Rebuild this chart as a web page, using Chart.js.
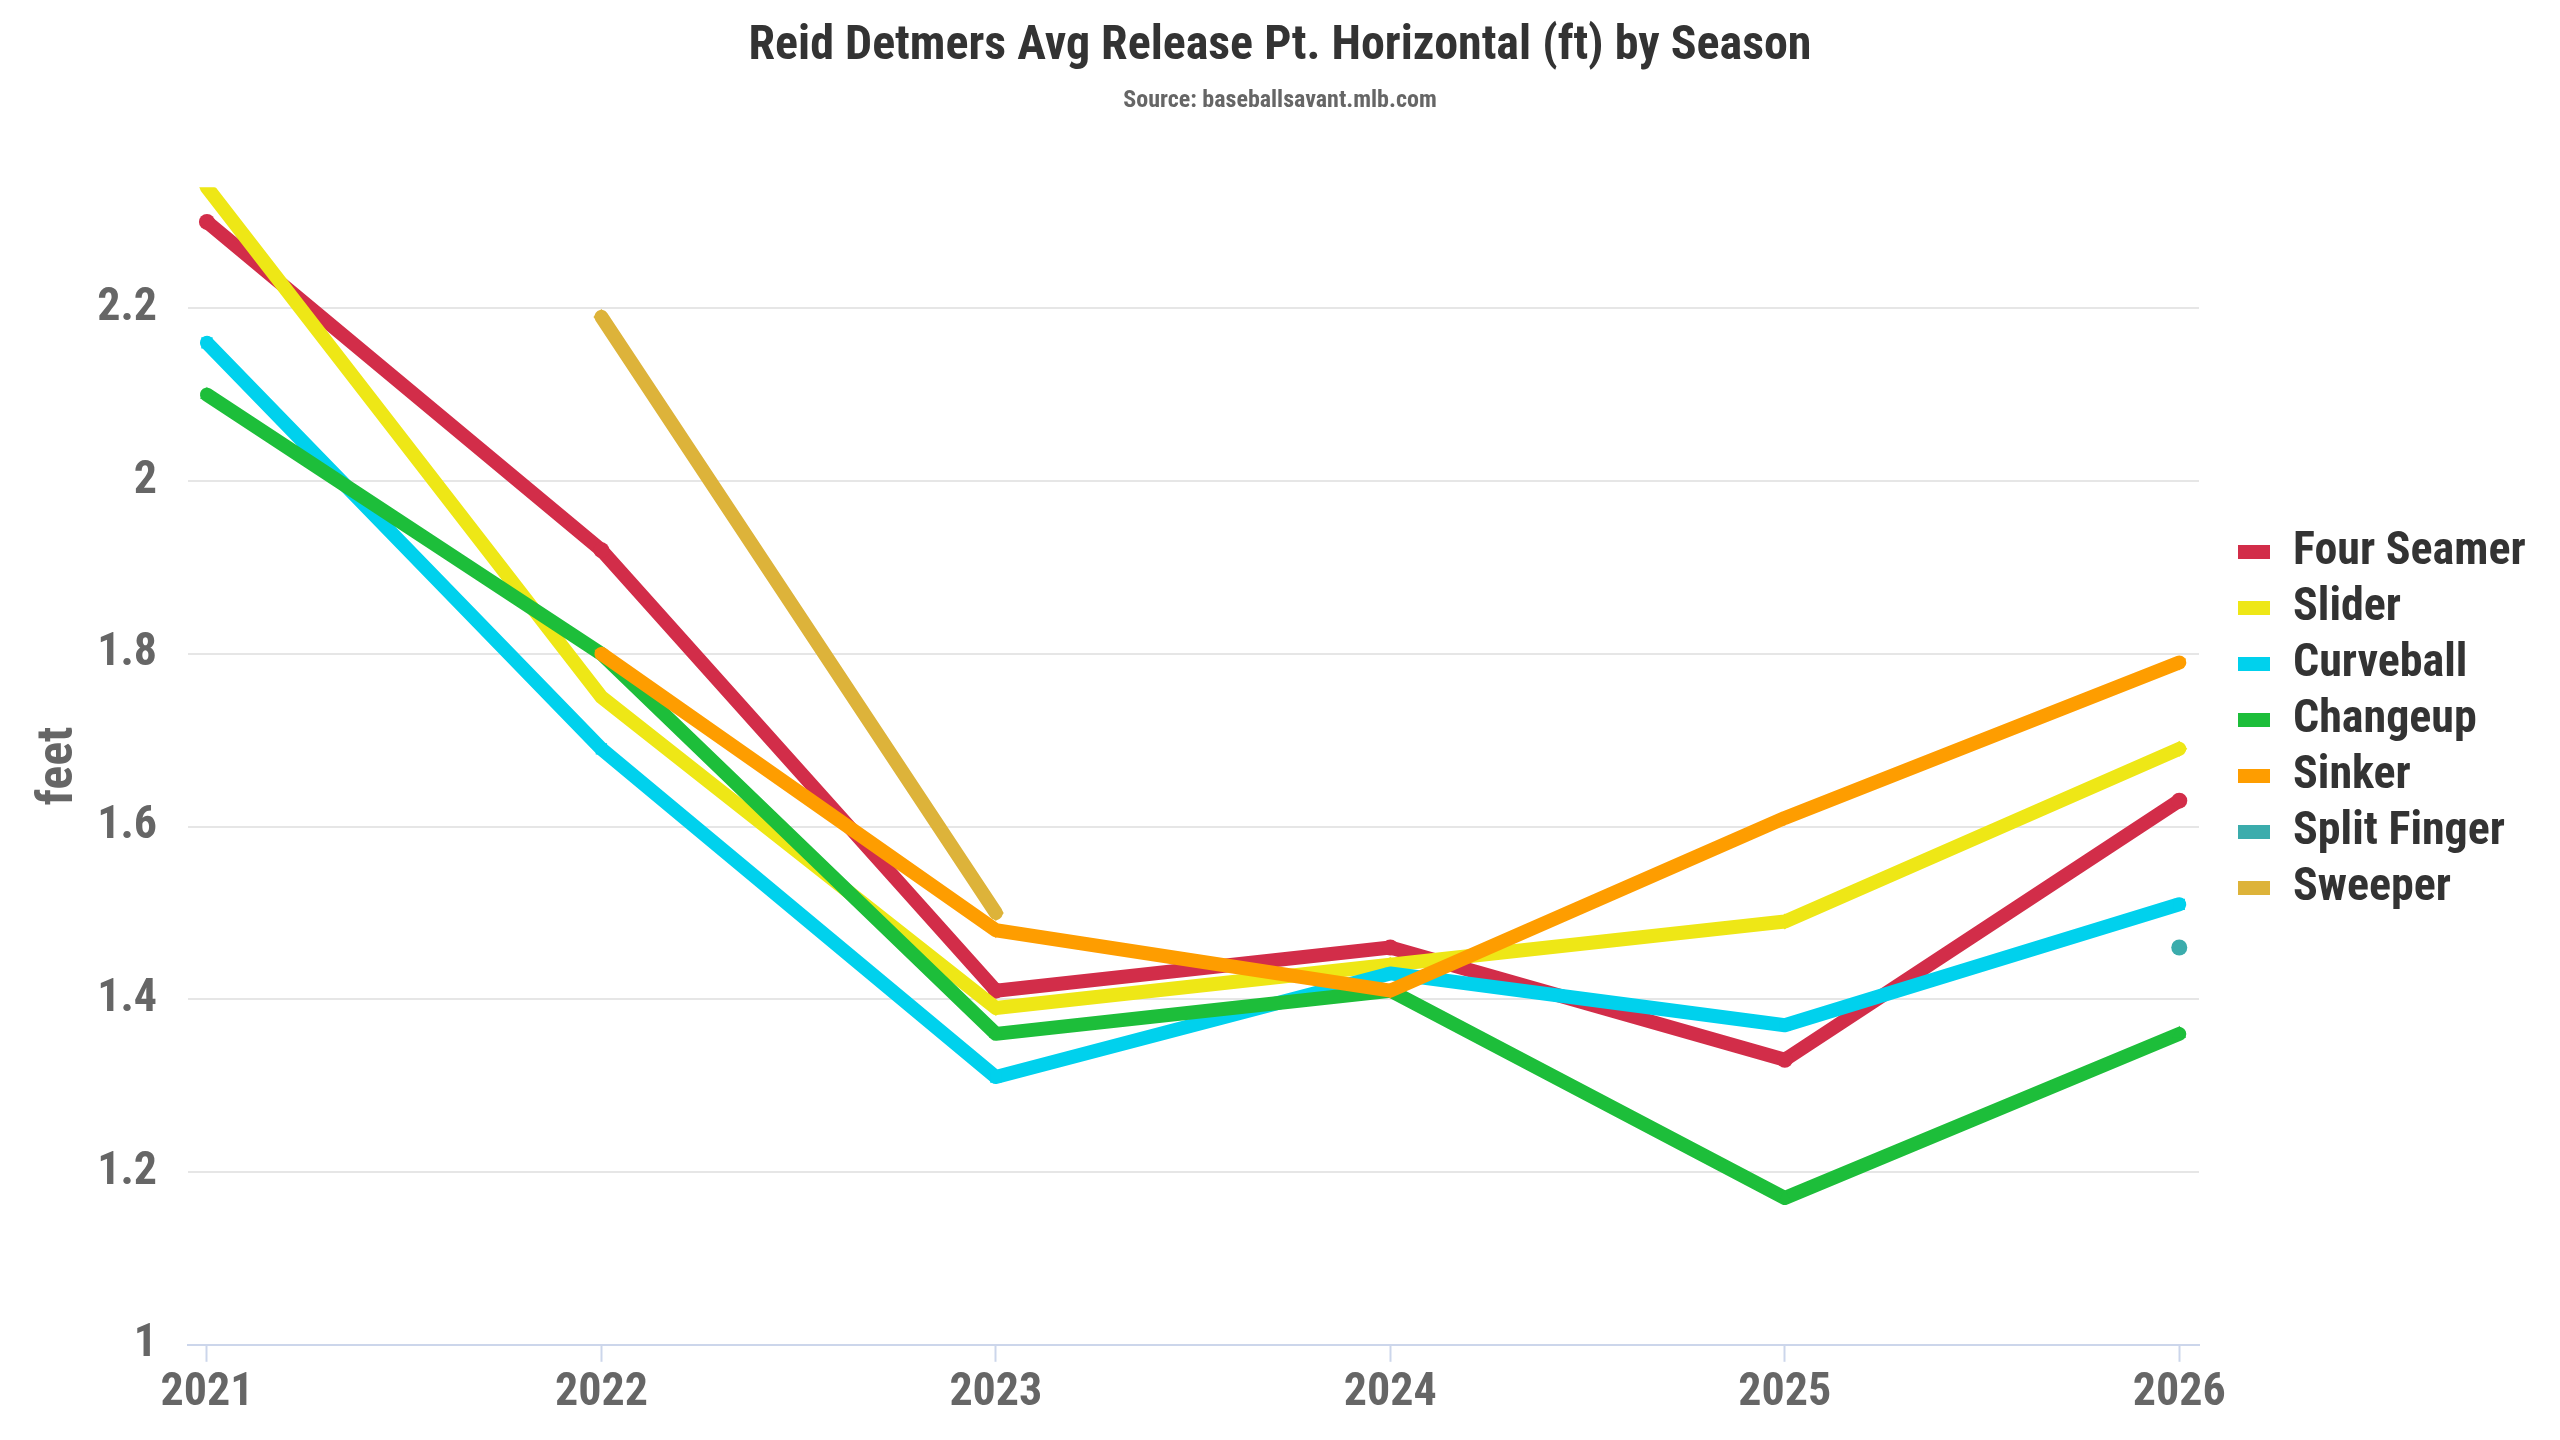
<!DOCTYPE html>
<html>
<head>
<meta charset="utf-8">
<script src="https://cdn.jsdelivr.net/npm/chart.js@4"></script>
<style>
  body { margin: 0; background: #fff; }
  #wrap { width: 2560px; height: 1440px; }
</style>
</head>
<body>
<div id="wrap"><canvas id="myChart"></canvas></div>
<script>
const seasons = [2021, 2022, 2023, 2024, 2025, 2026]
const pitchNames = ['Four Seamer', 'Slider', 'Curveball', 'Changeup', 'Sinker', 'Split Finger', 'Sweeper']
const fourSeamer = [2.30, 1.92, 1.41, 1.46, 1.33, 1.63]
const slider = [2.34, 1.75, 1.39, 1.44, 1.49, 1.69]
const curveball = [2.16, 1.69, 1.31, 1.43, 1.37, 1.51]
const changeup = [2.10, 1.80, 1.36, 1.41, 1.17, 1.36]
const sinker = [null, 1.80, 1.48, 1.41, 1.61, 1.79]
const splitFinger = [null, null, null, null, null, 1.46]
const sweeper = [null, 2.19, 1.50, null, null, null]
const yTicks = [1, 1.2, 1.4, 1.6, 1.8, 2, 2.2]

const colors = ['#d22d49', '#eee716', '#00d1ed', '#1dbe3a', '#fe9d00', '#3bacac', '#ddb33a']
const markers = ['circle', 'rectRot', 'rect', 'triangle', 'triangle', 'circle', 'rectRot']
const font = "'Roboto Condensed', 'Liberation Sans Narrow', 'DejaVu Sans Condensed', Roboto, sans-serif"

const yAxisWidth = 188
const legendWidth = 361

const series = [fourSeamer, slider, curveball, changeup, sinker, splitFinger, sweeper]

const datasets = series.map((values, i) => {
  return {
    label: pitchNames[i],
    data: values,
    borderColor: colors[i],
    backgroundColor: colors[i],
    borderWidth: 14,
    borderCapStyle: 'round',
    borderJoinStyle: 'round',
    pointStyle: markers[i],
    pointRotation: i === 4 ? 180 : 0,
    pointRadius: 8,
    pointBorderWidth: 0,
    tension: 0,
    order: -i
  }
})

// legend: fixed width, centred on the whole canvas, just right of the plot
const legendPlace = {
  id: 'legendPlace',
  beforeLayout(chart) {
    const lg = chart.legend
    if (lg && !lg.widened) {
      const baseFit = lg.fit
      lg.fit = function () {
        baseFit.call(this)
        this.width = legendWidth
      }
      lg.widened = true
    }
  },
  afterLayout(chart) {
    const lg = chart.legend
    const h = lg.bottom - lg.top
    const w = lg.right - lg.left
    lg.top = (chart.height - h) / 2
    lg.bottom = lg.top + h
    lg.left = chart.chartArea.right + 29
    lg.right = lg.left + w
  }
}

const config = {
  type: 'line',
  data: { labels: seasons, datasets: datasets },
  plugins: [legendPlace],
  options: {
    responsive: true,
    maintainAspectRatio: false,
    animation: false,
    layout: { padding: { left: 0, right: 0, bottom: 15 } },
    plugins: {
      title: {
        display: true,
        text: 'Reid Detmers Avg Release Pt. Horizontal (ft) by Season',
        color: '#333333',
        font: { family: font, size: 48, weight: 'bold' },
        padding: { top: 18, bottom: 11 }
      },
      subtitle: {
        display: true,
        text: 'Source: baseballsavant.mlb.com',
        color: '#666666',
        font: { family: font, size: 24, weight: 'bold' },
        padding: { top: 0, bottom: 72 }
      },
      legend: {
        position: 'right',
        labels: {
          color: '#333333',
          font: { family: font, size: 46, weight: 'bold' },
          boxWidth: 32,
          boxHeight: 14,
          padding: 10,
          sort: (a, b) => a.datasetIndex - b.datasetIndex,
          generateLabels: (chart) => {
            const items = Chart.defaults.plugins.legend.labels.generateLabels(chart)
            return items.map(item => ({ ...item, lineWidth: 0 }))
          }
        }
      },
      tooltip: { enabled: false }
    },
    scales: {
      x: {
        type: 'linear',
        min: 2020.952,
        max: 2026.05,
        afterBuildTicks: (axis) => {
          axis.ticks = seasons.map(v => ({ value: v }))
        },
        grid: {
          display: true,
          drawOnChartArea: false,
          drawTicks: true,
          tickLength: 17,
          tickColor: '#ccd6eb',
          tickWidth: 2
        },
        border: { display: true, color: '#ccd6eb', width: 2 },
        ticks: {
          color: '#666666',
          padding: 4,
          font: { family: font, size: 46, weight: 'bold' },
          callback: (v) => String(v)
        }
      },
      y: {
        min: 1,
        max: 2.34,
        afterBuildTicks: (axis) => {
          axis.ticks = yTicks.map(v => ({ value: v }))
        },
        afterFit: (axis) => {
          axis.width = yAxisWidth
        },
        grid: {
          color: '#e6e6e6',
          lineWidth: 2,
          drawTicks: false
        },
        border: { display: false },
        ticks: {
          color: '#666666',
          padding: 31,
          font: { family: font, size: 46, weight: 'bold' },
          callback: (v) => String(Math.round(v * 10) / 10)
        },
        title: {
          display: true,
          text: 'feet',
          color: '#666666',
          font: { family: font, size: 50, weight: 'bold' },
          padding: { top: 29, bottom: 3 }
        }
      }
    }
  }
}

const myChart = new Chart(
  document.getElementById('myChart'),
  config
)
</script>
</body>
</html>
